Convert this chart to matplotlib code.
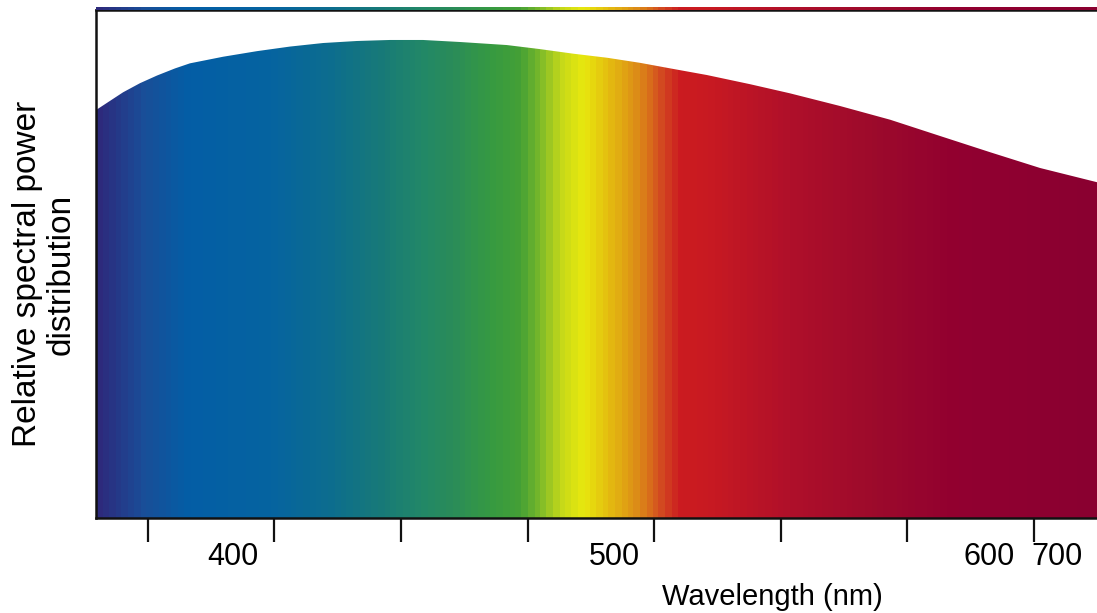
import matplotlib.pyplot as plt
import numpy as np
from matplotlib.colors import LinearSegmentedColormap
from matplotlib.patches import Polygon

plt.rcParams['font.family'] = ['Liberation Sans', 'DejaVu Sans']

# Curve (wavelength in nm, relative power)
wavelength = [379.5, 385.0, 390.2, 396.9, 403.6, 410.7, 416.6, 429.7, 443.1, 456.1, 469.2,
              482.6, 495.6, 508.7, 523.3, 541.8, 554.9, 568.0, 581.4, 594.4, 607.5, 620.8,
              637.8, 653.6, 673.4, 693.2, 712.9, 732.7, 752.4, 774.9]
power      = [0.803, 0.821, 0.838, 0.856, 0.871, 0.885, 0.895, 0.908, 0.919, 0.928, 0.935,
              0.939, 0.941, 0.941, 0.937, 0.931, 0.923, 0.914, 0.906, 0.896, 0.884, 0.872,
              0.854, 0.836, 0.811, 0.784, 0.752, 0.720, 0.689, 0.661]

# Spectrum colour stops along the x axis
stop_nm     = [379.5, 396.9, 414.7, 448.2, 471.9, 491.7, 507.5, 519.3, 535.1, 546.9, 554.9,
               562.8, 571.9, 582.5, 594.4, 602.3, 610.2, 622.0, 653.6, 689.2, 720.8, 774.9]
stop_colors = ['#2d2a7c', '#1a4e98', '#045ea6', '#0664a0', '#0d6e8e', '#187a78', '#228868',
               '#2a8c5a', '#369a42', '#44a036', '#7cba2a', '#c4d81a', '#e8e80e', '#e4bc10',
               '#dc8818', '#d45020', '#cc1c20', '#c81a22', '#b0102a', '#9c0a2c', '#920030',
               '#8a0030']

# Axis ticks and their (offset) labels
tick_nm        = [400, 450, 500, 550, 600, 650, 700, 750]
tick_label_pos = [433.6, 584.1, 732.2, 759.1]
tick_labels    = ['400', '500', '600', '700']

xmin, xmax = 379.5, 774.9

fig = plt.figure(figsize=(10.97, 6.13), dpi=100)
ax = fig.add_axes([96/1097, 95/613, 1001/1097, 508/613])

pos = [(s - xmin) / (xmax - xmin) for s in stop_nm]
pos[-1] = 1.0
cmap = LinearSegmentedColormap.from_list('spec', list(zip(pos, stop_colors)), N=160)
grad = np.linspace(0, 1, 600).reshape(1, -1)

img = ax.imshow(grad, cmap=cmap, aspect='auto', extent=[xmin, xmax, 0, 1],
                interpolation='nearest')
verts = [(xmin, 0)] + list(zip(wavelength, power)) + [(xmax, 0)]
clip = Polygon(verts, closed=True, facecolor='none', edgecolor='none', transform=ax.transData)
ax.add_patch(clip)
img.set_clip_path(clip)

ax.set_xlim(xmin, xmax)
ax.set_ylim(0, 1)
ax.set_yticks([])
ax.set_xticks(tick_nm)
ax.set_xticklabels([])
ax.tick_params(axis='x', direction='out', length=17, width=1.6, color='#111111')
for side in ['left', 'bottom', 'top']:
    ax.spines[side].set_linewidth(1.8)
    ax.spines[side].set_color('#111111')
ax.spines['right'].set_visible(False)

for p, lab in zip(tick_label_pos, tick_labels):
    ax.text(p, -0.077, lab, ha='center', va='center', fontsize=22,
            transform=ax.get_xaxis_transform())

fig.text(772/1097, 1 - 597/613, 'Wavelength (nm)', ha='center', va='center', fontsize=21)
fig.text(44/1097, 1 - 274/613, 'Relative spectral power\ndistribution', ha='center', va='center',
         rotation=90, fontsize=24, multialignment='center', linespacing=1.1)

# thin spectrum strip on top of the frame
ax2 = fig.add_axes([96/1097, 603/613, 1001/1097, 3/613])
ax2.imshow(grad, cmap=cmap, aspect='auto', extent=[xmin, xmax, 0, 1], interpolation='nearest')
ax2.set_axis_off()

fig.savefig('out.png', dpi=100)
